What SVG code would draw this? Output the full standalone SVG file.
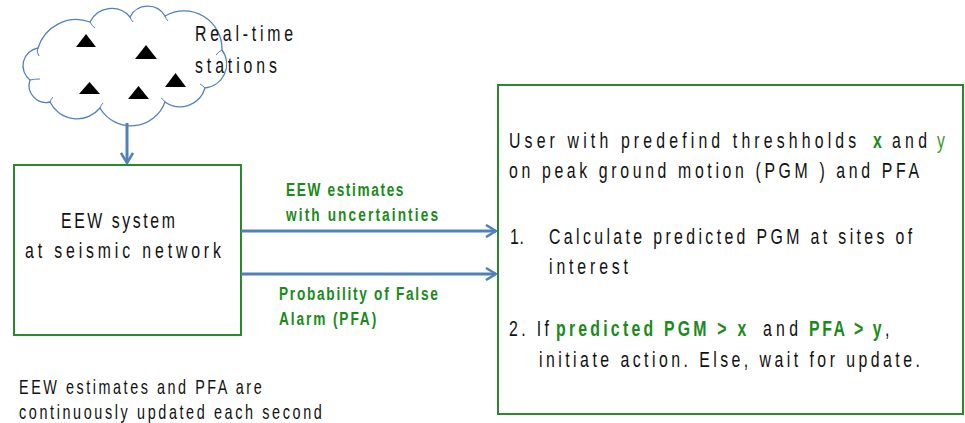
<svg xmlns="http://www.w3.org/2000/svg" width="965" height="423" viewBox="0 0 965 423">
  <style>
    .t { font-family: "Liberation Sans", Arial, sans-serif; fill: #111; }
    .big { font-size: 22px; }
    .small { font-size: 20px; }
    .lbl { font-family: "Liberation Sans", Arial, sans-serif; font-size: 19px; font-weight: bold; fill: #1a8a1a; }
    .g { fill: #1a8a1a; font-weight: bold; }
    .gl { fill: #3a9a2a; }
    .box { fill: #fff; stroke: #2a8a2a; stroke-width: 2; }
    .wire { stroke: #4f81bd; stroke-width: 3; fill: none; }
    .cloud { fill: #fff; stroke: #4f81bd; stroke-width: 1.3; }
  </style>
  <defs>
    <marker id="chev" viewBox="0 0 12 14" refX="11" refY="7" markerWidth="12" markerHeight="14" markerUnits="userSpaceOnUse" orient="auto">
      <path d="M1,1 L11,7 L1,13" fill="none" stroke="#4f81bd" stroke-width="2.5"/>
    </marker>
  </defs>
  <rect width="965" height="423" fill="#fff"/>

  <!-- station cloud; all text is drawn narrowed with scale(0.72,1) -->
  <g id="stations">
    <path class="cloud" d="M30,80 A18,18 0 0 1 38,48 A40,40 0 0 1 90,22 A24,24 0 0 1 130,17 A20,20 0 0 1 165,16 A38,38 0 0 1 222,50 A24,24 0 0 1 205,88 A26,26 0 0 1 165,102 A36,36 0 0 1 100,108 A30,30 0 0 1 50,102 A17,17 0 0 1 30,80 Z"/>
    <path d="M38,48 Q36,52 39,56 M90,22 Q92,26 95,28 M130,17 Q131,20 133,22 M165,16 Q166,19 168,21 M222,50 Q218,52 216,55 M205,88 Q202,85 200,84 M165,102 Q163,99 161,98 M100,108 Q101,105 103,103 M50,102 Q51,99 53,97 M30,80 Q34,79 40,79" fill="none" stroke="#4f81bd" stroke-width="1"/>
    <polygon points="76,47 96,47 86,34" fill="#000"/>
    <polygon points="135,59 157,59 146,45" fill="#000"/>
    <polygon points="79,94 100,94 89.5,82" fill="#000"/>
    <polygon points="128,99 149,99 138.5,86" fill="#000"/>
    <polygon points="165,87 186,87 175.5,73" fill="#000"/>
    <text class="t big" transform="translate(195,41) scale(0.72,1)" letter-spacing="5.25">Real-time</text>
    <text class="t big" transform="translate(195,73) scale(0.72,1)" letter-spacing="5.44">stations</text>
  </g>

  <!-- EEW system -->
  <g id="eew-system">
    <rect class="box" x="14" y="165" width="227" height="170"/>
    <text class="t big" transform="translate(61,228) scale(0.72,1)" letter-spacing="3.6">EEW  system</text>
    <text class="t big" transform="translate(25,258) scale(0.72,1)" letter-spacing="5.37">at seismic network</text>
  </g>

  <!-- user decision box -->
  <g id="user">
    <rect class="box" x="498" y="85" width="465" height="329"/>
    <text class="t big" transform="translate(509,148) scale(0.72,1)" letter-spacing="5.77">User with predefind  threshholds</text>
    <text class="t big g" transform="translate(873,148) scale(0.72,1)">x</text>
    <text class="t big" transform="translate(892,148) scale(0.72,1)" letter-spacing="5.95">and</text>
    <text class="t big gl" transform="translate(937,148) scale(0.72,1)">y</text>
    <text class="t big" transform="translate(509,178) scale(0.72,1)" letter-spacing="5.06">on peak ground motion (PGM ) and PFA</text>
    <text class="t big" transform="translate(510,244) scale(0.72,1)" letter-spacing="1">1.</text>
    <text class="t big" transform="translate(549,244) scale(0.72,1)" letter-spacing="4.7">Calculate predicted PGM  at sites of</text>
    <text class="t big" transform="translate(549,274) scale(0.72,1)" letter-spacing="5.37">interest</text>
    <text class="t big" transform="translate(509,336) scale(0.72,1)" letter-spacing="4.7">2. If</text>
    <text class="t big g" transform="translate(556,336) scale(0.72,1)" letter-spacing="4.49">predicted PGM  &gt; x</text>
    <text class="t big" transform="translate(763,336) scale(0.72,1)" letter-spacing="5.95">and</text>
    <text class="t big g" transform="translate(809,336) scale(0.72,1)" letter-spacing="3.58">PFA &gt; y</text>
    <text class="t big" transform="translate(885,336) scale(0.72,1)">,</text>
    <text class="t big" transform="translate(539,367) scale(0.72,1)" letter-spacing="4.82">initiate action. Else, wait for update.</text>
  </g>

  <!-- connectors and their labels -->
  <g id="connectors">
    <line class="wire" x1="127" y1="123" x2="127" y2="163" marker-end="url(#chev)"/>
    <line class="wire" x1="241" y1="231" x2="496" y2="231" marker-end="url(#chev)"/>
    <line class="wire" x1="241" y1="274" x2="496" y2="274" marker-end="url(#chev)"/>
    <text class="lbl" transform="translate(286,196) scale(0.72,1)" letter-spacing="2.25">EEW  estimates</text>
    <text class="lbl" transform="translate(286,221) scale(0.72,1)" letter-spacing="2.92">with uncertainties</text>
    <text class="lbl" transform="translate(279,300) scale(0.72,1)" letter-spacing="2.39">Probability of False</text>
    <text class="lbl" transform="translate(279,325) scale(0.72,1)" letter-spacing="2.63">Alarm (PFA)</text>
  </g>

  <!-- update note -->
  <g id="note">
    <text class="t small" transform="translate(19,394) scale(0.72,1)" letter-spacing="3.54">EEW  estimates and PFA are</text>
    <text class="t small" transform="translate(19,419) scale(0.72,1)" letter-spacing="3.64">continuously updated each second</text>
  </g>
</svg>
